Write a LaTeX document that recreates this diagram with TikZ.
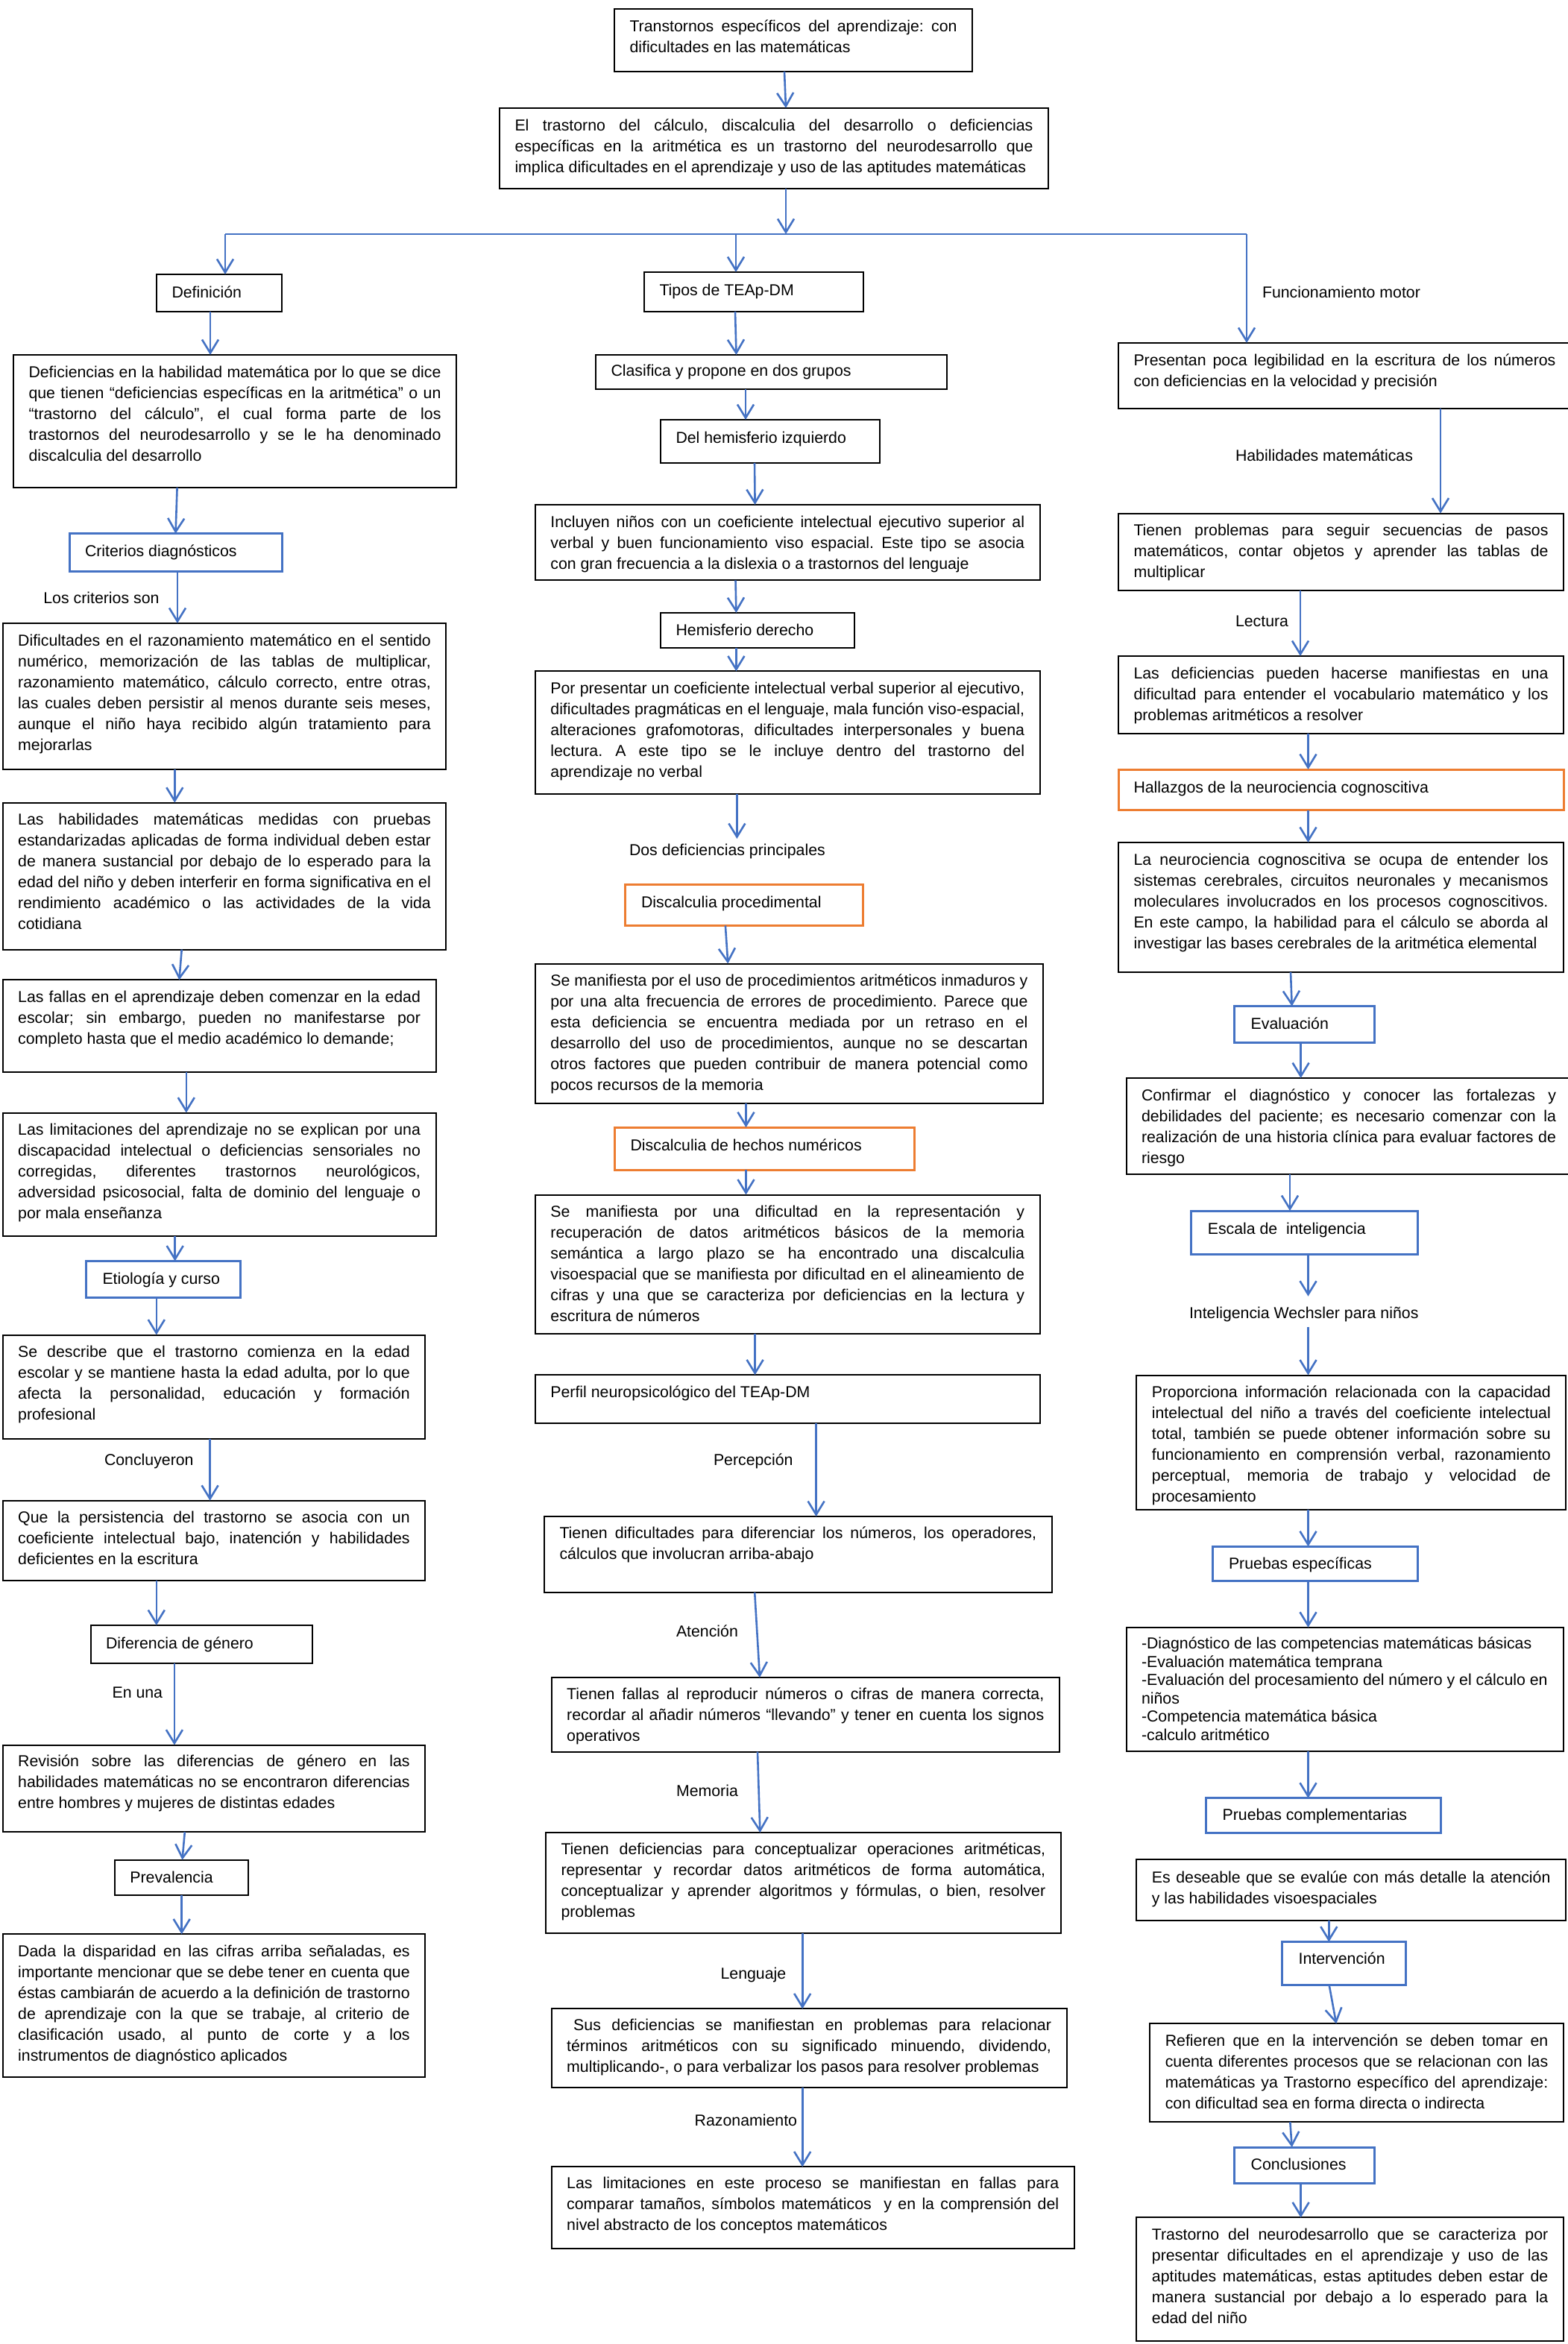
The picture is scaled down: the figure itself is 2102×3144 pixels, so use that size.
\documentclass[tikz,border=0pt]{standalone}
\usepackage{fontspec}
\setmainfont{Liberation Sans}
\usetikzlibrary{arrows.meta}
\definecolor{ablue}{HTML}{4472C4}
\definecolor{aorange}{HTML}{ED7D31}
\frenchspacing
\newcommand\jl[1]{\hbox to\hsize{#1}}
\newcommand\lastl[1]{\hbox{#1}}
\newcommand\mybx[8]{%
  \pgfmathsetmacro\bxw{#5-(#3)-41}%
  \pgfmathsetmacro\bxh{#6-(#4)}%
  \node[#2,anchor=north west] (#1) at (#3,#4) {\parbox[c][\bxh pt][t]{\bxw pt}{\frenchspacing\kern#7pt\hbox to\hsize{}#8}};}
\tikzset{
  every node/.style={font=\fontsize{21.3}{28}\selectfont, inner ysep=0pt, inner xsep=20.5pt, outer sep=0pt},
  kbox/.style={draw=black, line width=2pt},
  bbox/.style={draw=ablue, line width=3pt},
  obox/.style={draw=aorange, line width=3pt},
  lbl/.style={inner sep=0pt, anchor=base west},
  arr/.style={draw=ablue, line width=2.6pt, -{Straight Barb[length=18pt, width=22pt]}},
  bline/.style={draw=ablue, line width=2.6pt}
}
\begin{document}
\begin{tikzpicture}[x=1pt, y=-1pt]
\path[use as bounding box, fill=white] (0,0) rectangle (2102,3144);

% ---------------- top ----------------
\mybx{t1}{kbox}{824}{12}{1304}{96}{3}{%
\jl{Transtornos específicos del aprendizaje: con}
\lastl{dificultades en las matemáticas}}
\mybx{b2}{kbox}{670}{145}{1406}{253}{3}{%
\jl{El trastorno del cálculo, discalculia del desarrollo o deficiencias}
\jl{específicas en la aritmética es un trastorno del neurodesarrollo que}
\lastl{implica dificultades en el aprendizaje y uso de las aptitudes matemáticas}}

% ---------------- left column ----------------
\mybx{def}{kbox}{210}{368}{378}{418}{3}{\lastl{Definición}}
\mybx{defi}{kbox}{18}{476}{612}{654}{2}{%
\jl{Deficiencias en la habilidad matemática por lo que se dice}
\jl{que tienen “deficiencias específicas en la aritmética” o un}
\jl{“trastorno del cálculo”, el cual forma parte de los}
\jl{trastornos del neurodesarrollo y se le ha denominado}
\lastl{discalculia del desarrollo}}
\mybx{crit}{bbox}{93.5}{715.7}{378.8}{766}{3}{\lastl{Criterios diagnósticos}}
\node[lbl] (lbCrit) at (58.4,809.5) {Los criterios son};
\mybx{dific}{kbox}{3.7}{836}{598.4}{1032}{2}{%
\jl{Dificultades en el razonamiento matemático en el sentido}
\jl{numérico, memorización de las tablas de multiplicar,}
\jl{razonamiento matemático, cálculo correcto, entre otras,}
\jl{las cuales deben persistir al menos durante seis meses,}
\jl{aunque el niño haya recibido algún tratamiento para}
\lastl{mejorarlas}}
\mybx{habil}{kbox}{3.7}{1076.7}{598.4}{1273.6}{2}{%
\jl{Las habilidades matemáticas medidas con pruebas}
\jl{estandarizadas aplicadas de forma individual deben estar}
\jl{de manera sustancial por debajo de lo esperado para la}
\jl{edad del niño y deben interferir en forma significativa en el}
\jl{rendimiento académico o las actividades de la vida}
\lastl{cotidiana}}
\mybx{fallas}{kbox}{3.7}{1314.4}{584.5}{1437.7}{2}{%
\jl{Las fallas en el aprendizaje deben comenzar en la edad}
\jl{escolar; sin embargo, pueden no manifestarse por}
\lastl{completo hasta que el medio académico lo demande;}}
\mybx{limit}{kbox}{3.7}{1492.6}{584.5}{1658}{2}{%
\jl{Las limitaciones del aprendizaje no se explican por una}
\jl{discapacidad intelectual o deficiencias sensoriales no}
\jl{corregidas, diferentes trastornos neurológicos,}
\jl{adversidad psicosocial, falta de dominio del lenguaje o}
\lastl{por mala enseñanza}}
\mybx{etio}{bbox}{115.5}{1691.5}{322.9}{1740}{3}{\lastl{\kern1.5pt Etiología y curso}}
\mybx{desc}{kbox}{3.7}{1790.5}{570.2}{1930}{2}{%
\jl{Se describe que el trastorno comienza en la edad}
\jl{escolar y se mantiene hasta la edad adulta, por lo que}
\jl{afecta la personalidad, educación y formación}
\lastl{profesional}}
\node[lbl] (lbConc) at (140,1965.5) {Concluyeron};
\mybx{persist}{kbox}{3.7}{2012.8}{570.2}{2119.8}{2}{%
\jl{Que la persistencia del trastorno se asocia con un}
\jl{coeficiente intelectual bajo, inatención y habilidades}
\lastl{deficientes en la escritura}}
\mybx{genero}{kbox}{121.6}{2180}{418.8}{2231.3}{3}{\lastl{Diferencia de género}}
\node[lbl] (lbEnuna) at (150.6,2277.5) {En una};
\mybx{revis}{kbox}{3.7}{2340.6}{570.2}{2457.2}{1}{%
\jl{Revisión sobre las diferencias de género en las}
\jl{habilidades matemáticas no se encontraron diferencias}
\lastl{entre hombres y mujeres de distintas edades}}
\mybx{preval}{kbox}{153.9}{2494.6}{332.7}{2542.3}{3}{\lastl{Prevalencia}}
\mybx{dada}{kbox}{3.7}{2594.4}{570.2}{2785.8}{2}{%
\jl{Dada la disparidad en las cifras arriba señaladas, es}
\jl{importante mencionar que se debe tener en cuenta que}
\jl{éstas cambiarán de acuerdo a la definición de trastorno}
\jl{de aprendizaje con la que se trabaje, al criterio de}
\jl{clasificación usado, al punto de corte y a los}
\lastl{instrumentos de diagnóstico aplicados}}

% ---------------- middle column ----------------
\mybx{tipos}{kbox}{864}{365}{1158}{418}{3}{\lastl{Tipos de TEAp-DM}}
\mybx{clas}{kbox}{799}{476}{1270}{522}{0}{\lastl{Clasifica y propone en dos grupos}}
\mybx{izq}{kbox}{886}{563}{1180}{621}{3}{\lastl{Del hemisferio izquierdo}}
\mybx{incl}{kbox}{717.9}{677}{1394.6}{778.3}{2}{%
\jl{Incluyen niños con un coeficiente intelectual ejecutivo superior al}
\jl{verbal y buen funcionamiento viso espacial. Este tipo se asocia}
\lastl{con gran frecuencia a la dislexia o a trastornos del lenguaje}}
\mybx{der}{kbox}{886.1}{822}{1146.4}{869.3}{2}{\lastl{Hemisferio derecho}}
\mybx{porp}{kbox}{717.9}{900.4}{1394.6}{1065.4}{2}{%
\jl{Por presentar un coeficiente intelectual verbal superior al ejecutivo,}
\jl{dificultades pragmáticas en el lenguaje, mala función viso-espacial,}
\jl{alteraciones grafomotoras, dificultades interpersonales y buena}
\jl{lectura. A este tipo se le incluye dentro del trastorno del}
\lastl{aprendizaje no verbal}}
\node[lbl] (lbDos) at (844,1147) {Dos deficiencias principales};
\mybx{proc}{obox}{838.1}{1186}{1157.1}{1241.5}{3}{\lastl{\kern1.5pt Discalculia procedimental}}
\mybx{manif}{kbox}{717.9}{1292.5}{1399}{1479.7}{2}{%
\jl{Se manifiesta por el uso de procedimientos aritméticos inmaduros y}
\jl{por una alta frecuencia de errores de procedimiento. Parece que}
\jl{esta deficiencia se encuentra mediada por un retraso en el}
\jl{desarrollo del uso de procedimientos, aunque no se descartan}
\jl{otros factores que pueden contribuir de manera potencial como}
\lastl{pocos recursos de la memoria}}
\mybx{hechos}{obox}{824.1}{1512.2}{1226.4}{1569.2}{3}{\lastl{\kern1pt Discalculia de hechos numéricos}}
\mybx{manif2}{kbox}{717.9}{1602.5}{1394.6}{1789}{2}{%
\jl{Se manifiesta por una dificultad en la representación y}
\jl{recuperación de datos aritméticos básicos de la memoria}
\jl{semántica a largo plazo se ha encontrado una discalculia}
\jl{visoespacial que se manifiesta por dificultad en el alineamiento de}
\jl{cifras y una que se caracteriza por deficiencias en la lectura y}
\lastl{escritura de números}}
\mybx{perfil}{kbox}{717.9}{1844.3}{1394.6}{1909.1}{2}{\lastl{Perfil neuropsicológico del TEAp-DM}}
\node[lbl] (lbPerc) at (957,1965.5) {Percepción};
\mybx{percep}{kbox}{730}{2034}{1410.6}{2136.1}{1.5}{%
\jl{Tienen dificultades para diferenciar los números, los operadores,}
\lastl{cálculos que involucran arriba-abajo}}
\node[lbl] (lbAten) at (907,2195) {Atención};
\mybx{atenc}{kbox}{739.7}{2250}{1420.8}{2349.6}{1.5}{%
\jl{Tienen fallas al reproducir números o cifras de manera correcta,}
\jl{recordar al añadir números “llevando” y tener en cuenta los signos}
\lastl{operativos}}
\node[lbl] (lbMem) at (907,2409) {Memoria};
\mybx{memo}{kbox}{732}{2458}{1422.7}{2593.2}{1.5}{%
\jl{Tienen deficiencias para conceptualizar operaciones aritméticas,}
\jl{representar y recordar datos aritméticos de forma automática,}
\jl{conceptualizar y aprender algoritmos y fórmulas, o bien, resolver}
\lastl{problemas}}
\node[lbl] (lbLeng) at (966.6,2654) {Lenguaje};
\mybx{leng}{kbox}{739.7}{2694.4}{1430.5}{2799.6}{1.5}{%
\jl{\kern9pt Sus deficiencias se manifiestan en problemas para relacionar}
\jl{términos aritméticos con su significado minuendo, dividendo,}
\lastl{multiplicando-, o para verbalizar los pasos para resolver problemas}}
\node[lbl] (lbRaz) at (931.7,2851.5) {Razonamiento};
\mybx{razon}{kbox}{739.7}{2906.4}{1440.7}{3015.5}{1.5}{%
\jl{Las limitaciones en este proceso se manifiestan en fallas para}
\jl{comparar tamaños, símbolos matemáticos~ y en la comprensión del}
\lastl{nivel abstracto de los conceptos matemáticos}}

% ---------------- right column ----------------
\node[lbl] (lbFun) at (1693,399.5) {Funcionamiento motor};
\mybx{pres}{kbox}{1500}{460}{2107}{547.5}{2}{%
\jl{Presentan poca legibilidad en la escritura de los números}
\lastl{con deficiencias en la velocidad y precisión}}
\node[lbl] (lbHab) at (1657,618) {Habilidades matemáticas};
\mybx{tprob}{kbox}{1500}{688.6}{2097}{791.7}{2}{%
\jl{Tienen problemas para seguir secuencias de pasos}
\jl{matemáticos, contar objetos y aprender las tablas de}
\lastl{multiplicar}}
\node[lbl] (lbLect) at (1657,840) {Lectura};
\mybx{lect}{kbox}{1500}{880}{2097}{984}{2}{%
\jl{Las deficiencias pueden hacerse manifiestas en una}
\jl{dificultad para entender el vocabulario matemático y los}
\lastl{problemas aritméticos a resolver}}
\mybx{hall}{obox}{1500}{1032}{2097}{1086.5}{3}{\lastl{Hallazgos de la neurociencia cognoscitiva}}
\mybx{neuro}{kbox}{1500}{1130}{2097}{1304}{2}{%
\jl{La neurociencia cognoscitiva se ocupa de entender los}
\jl{sistemas cerebrales, circuitos neuronales y mecanismos}
\jl{moleculares involucrados en los procesos cognoscitivos.}
\jl{En este campo, la habilidad para el cálculo se aborda al}
\lastl{investigar las bases cerebrales de la aritmética elemental}}
\mybx{eval}{bbox}{1655.7}{1349.6}{1843.3}{1398.5}{3}{\lastl{\kern1.5pt Evaluación}}
\mybx{conf}{kbox}{1510.5}{1446}{2107.5}{1575}{2}{%
\jl{Confirmar el diagnóstico y conocer las fortalezas y}
\jl{debilidades del paciente; es necesario comenzar con la}
\jl{realización de una historia clínica para evaluar factores de}
\lastl{riesgo}}
\mybx{escala}{bbox}{1597.8}{1624}{1901.3}{1682.5}{3}{\lastl{\kern1.5pt Escala de~ inteligencia}}
\node[lbl] (lbWech) at (1595,1768) {Inteligencia Wechsler para niños};
\mybx{propo}{kbox}{1524.4}{1844.5}{2100.4}{2025.4}{2}{%
\jl{Proporciona información relacionada con la capacidad}
\jl{intelectual del niño a través del coeficiente intelectual}
\jl{total, también se puede obtener información sobre su}
\jl{funcionamiento en comprensión verbal, razonamiento}
\jl{perceptual, memoria de trabajo y velocidad de}
\lastl{procesamiento}}
\mybx{pesp}{bbox}{1626}{2074.3}{1901}{2120.5}{2}{\lastl{\kern1.5pt Pruebas específicas}}
\mybx{lista}{kbox}{1510.5}{2182.8}{2096.8}{2349}{4.2}{\baselineskip=24.5pt
\lastl{-Diagnóstico de las competencias matemáticas básicas}
\lastl{-Evaluación matemática temprana}
\lastl{-Evaluación del procesamiento del número y el cálculo en}
\lastl{niños}
\lastl{-Competencia matemática básica}
\lastl{-calculo aritmético}}
\mybx{pcomp}{bbox}{1617.6}{2411.8}{1932.6}{2458.5}{2}{\lastl{\kern1.5pt Pruebas complementarias}}
\mybx{deseable}{kbox}{1524.4}{2493.8}{2100}{2575.9}{3.5}{%
\jl{Es deseable que se evalúe con más detalle la atención}
\lastl{y las habilidades visoespaciales}}
\mybx{interv}{bbox}{1719.6}{2604.6}{1885}{2662.6}{2}{\lastl{\kern1.5pt Intervención}}
\mybx{refi}{kbox}{1542.3}{2714.4}{2096.8}{2846.2}{2.5}{%
\jl{Refieren que en la intervención se deben tomar en}
\jl{cuenta diferentes procesos que se relacionan con las}
\jl{matemáticas ya Trastorno específico del aprendizaje:}
\lastl{con dificultad sea en forma directa o indirecta}}
\mybx{concl}{bbox}{1655.7}{2880}{1843.3}{2928.7}{2}{\lastl{\kern1.5pt Conclusiones}}
\mybx{trast}{kbox}{1524.4}{2974.4}{2096.8}{3140}{2}{%
\jl{Trastorno del neurodesarrollo que se caracteriza por}
\jl{presentar dificultades en el aprendizaje y uso de las}
\jl{aptitudes matemáticas, estas aptitudes deben estar de}
\jl{manera sustancial por debajo a lo esperado para la}
\lastl{edad del niño}}

% ---------------- connectors ----------------
\coordinate (brL) at (302,314);
\coordinate (brM) at (987,314);
\coordinate (brC) at (1054,314);
\coordinate (brR) at (1672,314);
\coordinate (dosEnd) at (988.4,1125);
\coordinate (weA) at (1754.5,1738.7);
\coordinate (weB) at (1754.5,1779.6);

\draw[arr] (t1.south -| 1052,0) -- (b2.north -| 1054,0);
\draw[bline] (brL) -- (brR);
\draw[arr] (b2.south -| brC) -- (brC);
\draw[arr] (brL) -- (def.north -| brL);
\draw[arr] (brM) -- (tipos.north -| brM);
\draw[arr] (brR) -- (pres.north -| brR);

% left
\draw[arr] (def.south -| 282,0) -- (defi.north -| 282,0);
\draw[arr] (defi.south -| 237.6,0) -- (crit.north -| 235.5,0);
\draw[arr] (crit.south -| 238,0) -- (dific.north -| 238,0);
\draw[arr] (dific.south -| 234.3,0) -- (habil.north -| 234.3,0);
\draw[arr] (habil.south -| 243.7,0) -- (fallas.north -| 240.4,0);
\draw[arr] (fallas.south -| 249.8,0) -- (limit.north -| 249.8,0);
\draw[arr] (limit.south -| 234.7,0) -- (etio.north -| 234.7,0);
\draw[arr] (etio.south -| 209.8,0) -- (desc.north -| 209.8,0);
\draw[arr] (desc.south -| 281.6,0) -- (persist.north -| 281.6,0);
\draw[arr] (persist.south -| 209.8,0) -- (genero.north -| 209.8,0);
\draw[arr] (genero.south -| 233.9,0) -- (revis.north -| 233.9,0);
\draw[arr] (revis.south -| 247.8,0) -- (preval.north -| 244.5,0);
\draw[arr] (preval.south -| 243.7,0) -- (dada.north -| 243.7,0);

% middle
\draw[arr] (tipos.south -| 986,0) -- (clas.north -| 987.5,0);
\draw[arr] (clas.south -| 1000,0) -- (izq.north -| 1000,0);
\draw[arr] (izq.south -| 1012,0) -- (incl.north -| 1012.6,0);
\draw[arr] (incl.south -| 986.5,0) -- (der.north -| 987.4,0);
\draw[arr] (der.south -| 987.4,0) -- (porp.north -| 987.4,0);
\draw[arr] (porp.south -| dosEnd) -- (dosEnd);
\draw[arr] (proc.south -| 972.9,0) -- (manif.north -| 976.3,0);
\draw[arr] (manif.south -| 1000.5,0) -- (hechos.north -| 1000.5,0);
\draw[arr] (hechos.south -| 1000.5,0) -- (manif2.north -| 1000.5,0);
\draw[arr] (manif2.south -| 1012.6,0) -- (perfil.north -| 1012.6,0);
\draw[arr] (perfil.south -| 1094.6,0) -- (percep.north -| 1094.6,0);
\draw[arr] (percep.south -| 1012.2,0) -- (atenc.north -| 1019,0);
\draw[arr] (atenc.south -| 1016,0) -- (memo.north -| 1019.4,0);
\draw[arr] (memo.south -| 1076.2,0) -- (leng.north -| 1076.2,0);
\draw[arr] (leng.south -| 1076.2,0) -- (razon.north -| 1076.2,0);

% right
\draw[arr] (pres.south -| 1932,0) -- (tprob.north -| 1932,0);
\draw[arr] (tprob.south -| 1744,0) -- (lect.north -| 1744,0);
\draw[arr] (lect.south -| 1754.5,0) -- (hall.north -| 1754.5,0);
\draw[arr] (hall.south -| 1754.5,0) -- (neuro.north -| 1754.5,0);
\draw[arr] (neuro.south -| 1731,0) -- (eval.north -| 1732.7,0);
\draw[arr] (eval.south -| 1744.6,0) -- (conf.north -| 1744.6,0);
\draw[arr] (conf.south -| 1730,0) -- (escala.north -| 1730,0);
\draw[arr] (escala.south -| weA) -- (weA);
\draw[arr] (weB) -- (propo.north -| weB);
\draw[arr] (propo.south -| 1754.5,0) -- (pesp.north -| 1754.5,0);
\draw[arr] (pesp.south -| 1754.5,0) -- (lista.north -| 1754.5,0);
\draw[arr] (lista.south -| 1754.5,0) -- (pcomp.north -| 1754.5,0);
\draw[arr] (deseable.south -| 1782.3,0) -- (interv.north -| 1782.3,0);
\draw[arr] (interv.south -| 1782.7,0) -- (refi.north -| 1792.2,0);
\draw[arr] (refi.south -| 1730.3,0) -- (concl.north -| 1732.7,0);
\draw[arr] (concl.south -| 1744.6,0) -- (trast.north -| 1744.6,0);
\end{tikzpicture}
\end{document}
